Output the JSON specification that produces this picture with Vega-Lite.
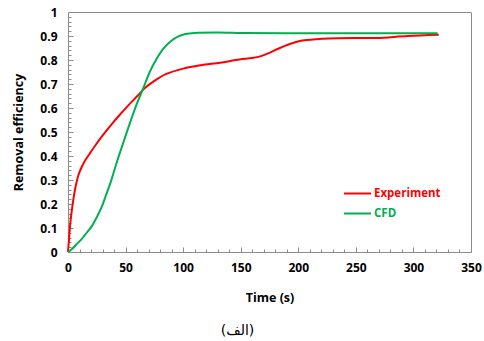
{
  "$schema": "https://vega.github.io/schema/vega-lite/v6.json",
  "width": 403,
  "height": 240,
  "autosize": {"type": "none"},
  "padding": {"left": 68, "top": 12, "right": 13, "bottom": 89},
  "background": "white",
  "config": {
    "view": {"stroke": "#8c8c8c", "strokeWidth": 1},
    "font": "Open Sans"
  },
  "title": {
    "text": "(الف)",
    "orient": "bottom",
    "anchor": "middle",
    "font": "DejaVu Sans",
    "fontSize": 14,
    "fontWeight": "normal",
    "color": "#000000",
    "offset": 20,
    "dx": -32
  },
  "data": {
    "values": [
      {"time": 0, "eff": 0.0, "series": "Experiment"},
      {"time": 1, "eff": 0.06, "series": "Experiment"},
      {"time": 2, "eff": 0.12, "series": "Experiment"},
      {"time": 3.5, "eff": 0.18, "series": "Experiment"},
      {"time": 5, "eff": 0.23, "series": "Experiment"},
      {"time": 6.5, "eff": 0.27, "series": "Experiment"},
      {"time": 9, "eff": 0.32, "series": "Experiment"},
      {"time": 12, "eff": 0.355, "series": "Experiment"},
      {"time": 15, "eff": 0.382, "series": "Experiment"},
      {"time": 20, "eff": 0.418, "series": "Experiment"},
      {"time": 24, "eff": 0.446, "series": "Experiment"},
      {"time": 28, "eff": 0.472, "series": "Experiment"},
      {"time": 32, "eff": 0.497, "series": "Experiment"},
      {"time": 38, "eff": 0.533, "series": "Experiment"},
      {"time": 45, "eff": 0.572, "series": "Experiment"},
      {"time": 52, "eff": 0.609, "series": "Experiment"},
      {"time": 60, "eff": 0.649, "series": "Experiment"},
      {"time": 67, "eff": 0.684, "series": "Experiment"},
      {"time": 75, "eff": 0.713, "series": "Experiment"},
      {"time": 85, "eff": 0.741, "series": "Experiment"},
      {"time": 100, "eff": 0.764, "series": "Experiment"},
      {"time": 115, "eff": 0.778, "series": "Experiment"},
      {"time": 132, "eff": 0.789, "series": "Experiment"},
      {"time": 149, "eff": 0.802, "series": "Experiment"},
      {"time": 160, "eff": 0.808, "series": "Experiment"},
      {"time": 167, "eff": 0.815, "series": "Experiment"},
      {"time": 175, "eff": 0.83, "series": "Experiment"},
      {"time": 183, "eff": 0.848, "series": "Experiment"},
      {"time": 190, "eff": 0.862, "series": "Experiment"},
      {"time": 198, "eff": 0.875, "series": "Experiment"},
      {"time": 207, "eff": 0.883, "series": "Experiment"},
      {"time": 227, "eff": 0.89, "series": "Experiment"},
      {"time": 250, "eff": 0.892, "series": "Experiment"},
      {"time": 268, "eff": 0.892, "series": "Experiment"},
      {"time": 295, "eff": 0.9, "series": "Experiment"},
      {"time": 322, "eff": 0.905, "series": "Experiment"},
      {"time": 0, "eff": 0.0, "series": "CFD"},
      {"time": 3, "eff": 0.01, "series": "CFD"},
      {"time": 7, "eff": 0.03, "series": "CFD"},
      {"time": 12, "eff": 0.055, "series": "CFD"},
      {"time": 17, "eff": 0.085, "series": "CFD"},
      {"time": 21, "eff": 0.11, "series": "CFD"},
      {"time": 25, "eff": 0.145, "series": "CFD"},
      {"time": 29.5, "eff": 0.19, "series": "CFD"},
      {"time": 33, "eff": 0.237, "series": "CFD"},
      {"time": 37, "eff": 0.29, "series": "CFD"},
      {"time": 42, "eff": 0.368, "series": "CFD"},
      {"time": 48, "eff": 0.455, "series": "CFD"},
      {"time": 54, "eff": 0.54, "series": "CFD"},
      {"time": 60, "eff": 0.62, "series": "CFD"},
      {"time": 66, "eff": 0.69, "series": "CFD"},
      {"time": 71, "eff": 0.75, "series": "CFD"},
      {"time": 77, "eff": 0.805, "series": "CFD"},
      {"time": 83, "eff": 0.848, "series": "CFD"},
      {"time": 89, "eff": 0.877, "series": "CFD"},
      {"time": 95, "eff": 0.896, "series": "CFD"},
      {"time": 102, "eff": 0.908, "series": "CFD"},
      {"time": 110, "eff": 0.913, "series": "CFD"},
      {"time": 130, "eff": 0.915, "series": "CFD"},
      {"time": 155, "eff": 0.912, "series": "CFD"},
      {"time": 200, "eff": 0.911, "series": "CFD"},
      {"time": 250, "eff": 0.911, "series": "CFD"},
      {"time": 300, "eff": 0.911, "series": "CFD"},
      {"time": 321, "eff": 0.911, "series": "CFD"}
    ]
  },
  "mark": {"type": "line", "strokeWidth": 2, "interpolate": "catmull-rom"},
  "encoding": {
    "x": {
      "field": "time",
      "type": "quantitative",
      "scale": {"domain": [0, 350], "nice": false},
      "axis": {
        "title": "Time (s)",
        "titleFont": "Open Sans",
        "titleFontSize": 12.5,
        "titleFontWeight": "bold",
        "titleColor": "#000000",
        "titlePadding": 16,
        "values": [0,10,20,30,40,50,60,70,80,90,100,110,120,130,140,150,160,170,180,190,200,210,220,230,240,250,260,270,280,290,300,310,320,330,340,350],
        "labelExpr": "datum.value % 50 === 0 ? datum.label : ''",
        "labelFont": "Open Sans",
        "labelFontSize": 12,
        "labelFontWeight": "bold",
        "labelColor": "#000000",
        "labelPadding": 15,
        "domain": false,
        "grid": false,
        "tickColor": "#8c8c8c",
        "tickSize": {"condition": {"test": "datum.value % 50 === 0", "value": -5}, "value": -3},
        "labelFlush": false,
        "labelOverlap": false
      }
    },
    "y": {
      "field": "eff",
      "type": "quantitative",
      "scale": {"domain": [0, 1], "nice": false},
      "axis": {
        "title": "Removal efficiency",
        "titleFont": "Open Sans",
        "titleFontSize": 12.5,
        "titleFontWeight": "bold",
        "titleColor": "#000000",
        "titlePadding": 14,
        "values": [0,0.02,0.04,0.06,0.08,0.1,0.12,0.14,0.16,0.18,0.2,0.22,0.24,0.26,0.28,0.3,0.32,0.34,0.36,0.38,0.4,0.42,0.44,0.46,0.48,0.5,0.52,0.54,0.56,0.58,0.6,0.62,0.64,0.66,0.68,0.7,0.72,0.74,0.76,0.78,0.8,0.82,0.84,0.86,0.88,0.9,0.92,0.94,0.96,0.98,1],
        "labelExpr": "abs(round(datum.value*10) - datum.value*10) < 0.000001 ? format(datum.value, '.1~f') : ''",
        "labelFont": "Open Sans",
        "labelFontSize": 12,
        "labelFontWeight": "bold",
        "labelColor": "#000000",
        "labelPadding": 16,
        "domain": false,
        "grid": false,
        "tickColor": "#8c8c8c",
        "tickSize": {"condition": {"test": "abs(round(datum.value*10) - datum.value*10) < 0.000001", "value": -5}, "value": -3},
        "labelFlush": false,
        "labelOverlap": false
      }
    },
    "color": {
      "field": "series",
      "type": "nominal",
      "scale": {"domain": ["Experiment", "CFD"], "range": ["#ff0000", "#00b050"]},
      "legend": {
        "title": null,
        "orient": "none",
        "legendX": 275,
        "legendY": 167,
        "symbolType": "stroke",
        "symbolSize": 729,
        "symbolStrokeWidth": 2,
        "labelFont": "Open Sans",
        "labelFontSize": 11.5,
        "labelFontWeight": "bold",
        "labelOffset": 2,
        "rowPadding": -5,
        "encode": {
          "labels": {"update": {"fill": {"scale": "color", "field": "value"}}}
        }
      }
    }
  }
}
